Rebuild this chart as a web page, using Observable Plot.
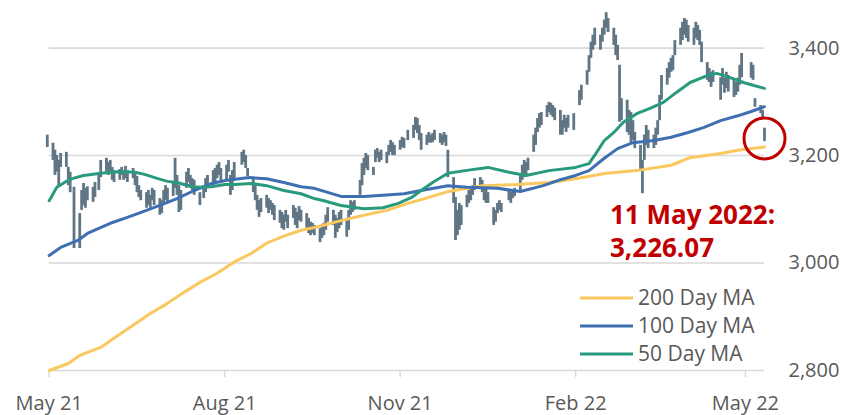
<!DOCTYPE html>
<html><head><meta charset="utf-8">
<script src="https://cdn.jsdelivr.net/npm/d3@7"></script>
<script src="https://cdn.jsdelivr.net/npm/@observablehq/plot@0.6"></script>
<style>
html,body{margin:0;padding:0;background:#fff;}
#chart svg{display:block;}
#chart [aria-label^="x-axis"] line, #chart [aria-label="x-axis tick"] path{stroke:#d9d9d9;stroke-width:1.5px;}
</style>
</head><body><div id="chart"></div>
<script>
// ---- data ----
const calendarStart = "2021-04-26"; // Monday; one entry per weekday, null = no trading
const highs = [
 null,null,null,null,3238,
 3223,3210,3200,3191,3204,
 3206,3178,3169,null,3141,
 3092,3135,3148,3139,3142,
 3141,3150,null,3163,3191,
 3195,3187,3191,3178,3172,
 3174,3178,3172,3180,3172,
 3176,3169,3161,3144,3135,
 3131,3135,3126,3139,3135,
 3120,3116,3135,3144,3139,
 3150,3195,3163,3144,3135,
 3169,3176,3163,3157,3154,
 3131,null,3144,3157,3163,
 3172,3176,3182,3187,3176,
 3182,3191,3163,3172,3187,
 null,3206,3210,3200,3176,
 3157,3144,3126,3116,3120,
 3126,3120,3116,3111,3107,
 3098,3094,3089,3098,3089,
 3107,3102,3094,3105,3098,
 3092,3083,3076,3074,3070,
 3064,3070,3074,3089,3103,
 3098,3089,3083,3094,3098,
 3083,3098,3116,3113,3116,
 3154,3185,3195,3204,3200,
 3178,3210,3213,3206,3210,
 3206,3219,3228,3224,3219,
 3228,3234,3232,null,3247,
 3256,3271,3269,3256,3241,
 3238,3243,3238,3241,3247,
 3241,3238,3243,3238,3210,
 3159,3122,3098,3111,3107,
 3126,3135,3139,3144,3157,
 3159,3154,3144,3139,3131,
 3103,3098,3111,3116,3111,
 null,3135,3131,3135,3139,
 3163,3182,3191,3187,3195,
 3238,3251,3269,3278,3280,
 3293,3299,3297,3293,3288,
 3284,3265,3275,3269,3275,
 3278,null,null,3321,3331,
 3358,3386,3411,3424,3437,
 3424,3437,3452,3466,3455,
 3437,3424,3405,3368,3306,
 3303,3284,3280,3265,3243,
 3219,3191,3238,3256,3247,
 3238,3251,3265,3312,3349,
 3362,3373,3381,3386,3414,
 3437,3448,3455,3452,3442,
 3437,3448,3442,3433,3411,
 3373,3362,3355,3358,null,
 3345,3362,3344,3355,3349,
 3340,3336,3344,3368,3390,
 null,null,3373,3368,3306,
 3293,3284,3251
];
const lows = [
 null,null,null,null,3215,
 3191,3163,3169,3144,3178,
 3178,3144,3131,null,3027,
 3027,3098,3107,3102,3116,
 3113,3122,null,3135,3159,
 3169,3163,3169,3154,3150,
 3154,3163,3154,3157,3150,
 3157,3144,3131,3122,3116,
 3102,3107,3102,3116,3107,
 3089,3092,3107,3116,3111,
 3124,3139,3126,3094,3098,
 3139,3150,3139,3135,3126,
 3107,null,3120,3131,3139,
 3144,3150,3157,3163,3150,
 3154,3169,3126,3135,3154,
 null,3182,3187,3176,3161,
 3131,3116,3098,3085,3094,
 3102,3092,3098,3089,3079,
 3074,3064,3061,3076,3064,
 3083,3070,3064,3079,3076,
 3064,3055,3051,3055,3051,
 3038,3046,3051,3061,3076,
 3070,3046,3057,3064,3070,
 3048,3061,3089,3094,3098,
 3126,3144,3163,3176,3172,
 3163,3187,3195,3187,3191,
 3185,3200,3206,3200,3200,
 3210,3215,3213,null,3228,
 3232,3247,3241,3228,3210,
 3219,3224,3223,3224,3228,
 3223,3219,3224,3217,3159,
 3111,3042,3051,3061,3070,
 3103,3111,3116,3126,3135,
 3139,3131,3116,3111,3111,
 3070,3076,3092,3098,3094,
 null,3116,3111,3120,3124,
 3135,3154,3159,3163,3172,
 3206,3219,3243,3251,3256,
 3271,3280,3275,3271,3265,
 3238,3238,3251,3243,3251,
 3247,null,null,3293,3303,
 3331,3355,3381,3396,3405,
 3396,3411,3424,3437,3429,
 3405,3386,3377,3262,3265,
 3243,3238,3224,3228,3213,
 3172,3129,3191,3219,3213,
 3213,3219,3238,3265,3303,
 3331,3344,3355,3358,3386,
 3405,3414,3424,3418,3411,
 3405,3418,3414,3405,3373,
 3340,3336,3327,3336,null,
 3303,3331,3316,3325,3318,
 3308,3312,3318,3331,3345,
 null,null,3344,3340,3290,
 3278,3271,3226
];

const ma50Dates = ["2021-05-01","2021-05-05","2021-05-09","2021-05-13","2021-05-19","2021-05-28","2021-06-06","2021-06-15","2021-06-20","2021-06-27","2021-07-02","2021-07-07","2021-07-15","2021-07-20","2021-07-25","2021-08-01","2021-08-06","2021-08-15","2021-08-23","2021-09-01","2021-09-10","2021-09-17","2021-09-22","2021-10-01","2021-10-13","2021-10-23","2021-10-31","2021-11-07","2021-11-12","2021-11-18","2021-11-26","2021-12-05","2021-12-17","2021-12-28","2022-01-06","2022-01-18","2022-02-01","2022-02-08","2022-02-12","2022-02-16","2022-02-21","2022-02-26","2022-03-05","2022-03-12","2022-03-19","2022-03-26","2022-04-02","2022-04-11","2022-04-16","2022-04-23","2022-04-30","2022-05-05","2022-05-11"];
const ma50 = [3116,3141,3150,3157,3163,3167,3170,3169,3165,3157,3152,3150,3142,3141,3142,3146,3146,3148,3144,3135,3129,3120,3116,3107,3101,3103,3111,3122,3135,3150,3167,3172,3178,3169,3163,3172,3178,3185,3206,3228,3243,3262,3278,3288,3299,3318,3336,3349,3353,3345,3336,3331,3325];

const ma100Dates = ["2021-05-01","2021-05-07","2021-05-16","2021-05-21","2021-06-02","2021-06-11","2021-06-21","2021-07-02","2021-07-07","2021-07-16","2021-07-25","2021-08-02","2021-08-14","2021-08-23","2021-09-01","2021-09-10","2021-09-17","2021-10-01","2021-10-13","2021-10-23","2021-11-03","2021-11-12","2021-11-26","2021-12-06","2021-12-22","2022-01-03","2022-01-15","2022-01-23","2022-02-01","2022-02-08","2022-02-16","2022-02-23","2022-03-03","2022-03-14","2022-03-23","2022-04-01","2022-04-09","2022-04-18","2022-04-27","2022-05-04","2022-05-11"];
const ma100 = [3014,3029,3042,3055,3074,3085,3098,3113,3120,3135,3148,3154,3159,3157,3150,3142,3139,3124,3124,3126,3129,3135,3144,3141,3139,3133,3144,3154,3163,3172,3195,3213,3224,3228,3234,3243,3252,3265,3274,3282,3291];

const ma200Dates = ["2021-05-01","2021-05-11","2021-05-17","2021-05-28","2021-06-06","2021-06-14","2021-06-23","2021-07-02","2021-07-10","2021-07-19","2021-07-28","2021-08-06","2021-08-15","2021-08-23","2021-09-01","2021-09-10","2021-09-17","2021-10-01","2021-10-13","2021-10-25","2021-11-05","2021-11-12","2021-11-26","2021-12-14","2022-01-01","2022-01-18","2022-02-01","2022-02-17","2022-03-05","2022-03-23","2022-04-02","2022-04-18","2022-04-27","2022-05-11"];
const ma200 = [2800,2813,2828,2843,2865,2884,2906,2925,2944,2964,2981,3002,3018,3037,3050,3061,3066,3079,3089,3098,3111,3118,3133,3144,3146,3150,3157,3167,3172,3182,3196,3204,3210,3216];

const yTicks = [2800, 3000, 3200, 3400];
const xTickDates = ["2021-05-01","2021-08-01","2021-11-01","2022-02-01","2022-05-01"];
const seriesNames = ["200 Day MA", "100 Day MA", "50 Day MA"];
const seriesColors = ["#f9c85e", "#3e6fb1", "#2a9a7e"];
const lastDate = "2022-05-11";
const lastClose = "3,226.07";
const annotationTitle = "11 May 2022:";

// ---- build tables ----
const utc = s => new Date(s + "T00:00:00Z");
function tradingDay(i) {
  const d = utc(calendarStart);
  d.setUTCDate(d.getUTCDate() + 7 * Math.floor(i / 5) + (i % 5));
  return d;
}
const bars = highs.map((h, i) => ({date: tradingDay(i), hi: h, lo: lows[i]})).filter(d => d.hi != null);
const toSeries = (dates, vals) => dates.map((d, i) => ({date: utc(d), v: vals[i]}));
const s200 = toSeries(ma200Dates, ma200);
const s100 = toSeries(ma100Dates, ma100);
const s50 = toSeries(ma50Dates, ma50);
const circlePoint = [{date: utc(lastDate), v: 3232}];
const labelPoint = [{date: utc("2022-02-19"), v: 3072}];
const fmt = d3.format(",");
const FONT = "'Open Sans', 'Liberation Sans', sans-serif";

const chart = Plot.plot({
  width: 855,
  height: 415,
  marginLeft: 48.7,
  marginRight: 91,
  marginTop: 10,
  marginBottom: 45,
  style: {fontFamily: FONT, fontSize: "20px", color: "#595959", background: "#fff", overflow: "visible"},
  x: {type: "utc", domain: [utc("2021-05-01"), utc(lastDate)], ticks: xTickDates.map(utc), tickFormat: d3.utcFormat("%b %y"), tickSize: 7, tickPadding: 18, label: null},
  y: {domain: [2800, 3470], axis: null},
  marks: [
    Plot.ruleY(yTicks, {stroke: "#d9d9d9", strokeWidth: 1.6}),
    Plot.text(yTicks, {y: d => d, text: d => fmt(d), frameAnchor: "right", dx: 24, textAnchor: "start", fill: "#595959", fontSize: 20}),
    Plot.ruleX(bars, {x: "date", y1: "lo", y2: "hi", stroke: "#607685", strokeWidth: 2.8}),
    Plot.line(s200, {x: "date", y: "v", stroke: seriesColors[0], strokeWidth: 3}),
    Plot.line(s100, {x: "date", y: "v", stroke: seriesColors[1], strokeWidth: 3}),
    Plot.line(s50, {x: "date", y: "v", stroke: seriesColors[2], strokeWidth: 3}),
    Plot.dot(circlePoint, {x: "date", y: "v", r: 20.5, stroke: "#c00000", strokeWidth: 3, fill: "none"}),
    Plot.text(labelPoint, {x: "date", y: "v", text: () => annotationTitle, textAnchor: "start", lineAnchor: "bottom", fontSize: 26, fontWeight: "bold", fill: "#c00000"}),
    Plot.text(labelPoint, {x: "date", y: "v", text: () => lastClose, textAnchor: "start", lineAnchor: "bottom", dy: 33, fontSize: 26, fontWeight: "bold", fill: "#c00000"})
  ]
});
document.getElementById("chart").appendChild(chart);

// legend inside the plot area (bottom right)
const svg = d3.select(chart);
const lg = svg.append("g").attr("class", "legend");
seriesNames.forEach((name, i) => {
  const y = 298 + 28 * i;
  lg.append("line").attr("x1", 580).attr("x2", 633).attr("y1", y).attr("y2", y)
    .attr("stroke", seriesColors[i]).attr("stroke-width", 3.2);
  lg.append("text").attr("x", 638).attr("y", y).attr("dy", "0.35em")
    .attr("text-anchor", "start").attr("fill", "#595959")
    .style("font-size", "21px").style("font-family", FONT).text(name);
});
</script></body></html>
